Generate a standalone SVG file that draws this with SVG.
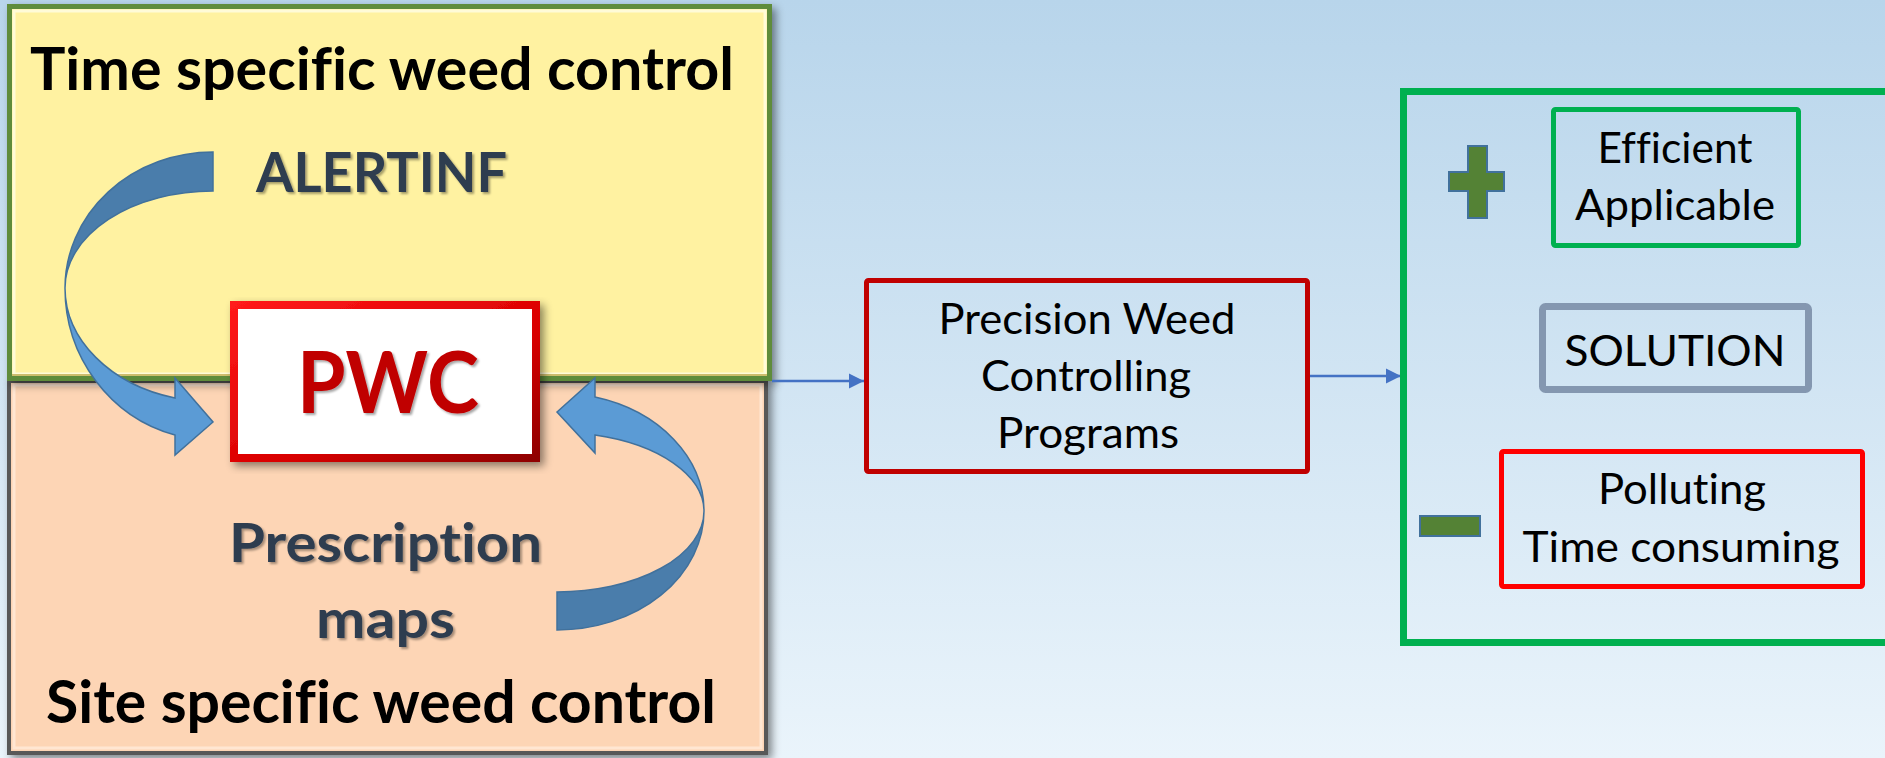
<svg xmlns="http://www.w3.org/2000/svg" width="1885" height="758" viewBox="0 0 1885 758">
<style>
  .f { font-family: Lato, "Open Sans", "Liberation Sans", sans-serif; font-variant-ligatures: none; }
  .title { font-weight: 700; font-size: 59px; fill: #000000; }
  .sub { font-weight: 700; fill: #2f3d50; }
  .lbl { font-size: 42px; fill: #000000; text-anchor: middle; }
  .arrow-dark { fill: #4a7dab; stroke: #41719c; stroke-width: 1.5; }
  .arrow-light { fill: #5b9bd5; stroke: #41719c; stroke-width: 1.5; }
  .conn { stroke: #4472c4; stroke-width: 2.5; fill: none; marker-end: url(#arr); }
  .sign { fill: #548235; stroke: #41719c; stroke-width: 2; }
</style>
<defs>
  <linearGradient id="bgGrad" x1="0" y1="0" x2="0" y2="1">
    <stop offset="0" stop-color="#b8d5eb"/>
    <stop offset="1" stop-color="#eaf4fb"/>
  </linearGradient>
  <linearGradient id="redGrad" x1="0" y1="0" x2="1" y2="1">
    <stop offset="0" stop-color="#ff1a1a"/>
    <stop offset="0.6" stop-color="#d80000"/>
    <stop offset="1" stop-color="#8f0000"/>
  </linearGradient>
  <filter id="boxShadow" x="-5%" y="-5%" width="112%" height="115%">
    <feDropShadow dx="4" dy="4" stdDeviation="4" flood-color="#000000" flood-opacity="0.45"/>
  </filter>
  <filter id="txtShadow" x="-5%" y="-10%" width="115%" height="130%">
    <feDropShadow dx="2" dy="2" stdDeviation="1.3" flood-color="#000000" flood-opacity="0.35"/>
  </filter>
  <marker id="arr" viewBox="0 0 10 10" refX="10" refY="5" markerWidth="6" markerHeight="6.4" orient="auto" markerUnits="strokeWidth">
    <path d="M0,0 L10,5 L0,10 Z" fill="#4472c4"/>
  </marker>
</defs>

<rect id="background" x="0" y="0" width="1885" height="758" fill="url(#bgGrad)"/>

<g id="node-site">
  <rect x="9" y="381" width="757" height="372" fill="#fdd5b5" stroke="#595959" stroke-width="4" filter="url(#boxShadow)"/>
  <rect x="14" y="385" width="747" height="363" fill="none" stroke="#ffe6d2" stroke-width="3"/>
  <text class="f title" x="46" y="723" textLength="670" lengthAdjust="spacingAndGlyphs">Site specific weed control</text>
</g>

<g id="node-time">
  <rect x="9.5" y="6.5" width="760" height="372" fill="#fff2a1" stroke="#5e8c3a" stroke-width="5" filter="url(#boxShadow)"/>
  <rect x="14" y="11" width="751" height="363" fill="none" stroke="#fffbd8" stroke-width="3"/>
  <line x1="12" y1="375" x2="767" y2="375" stroke="#cdbd6c" stroke-width="2"/>
  <text class="f title" x="30" y="90" textLength="704" lengthAdjust="spacingAndGlyphs">Time specific weed control</text>
</g>

<g id="node-alertinf">
  <text class="f sub" x="256" y="192" font-size="56" fill="#1f2d3f" textLength="251" lengthAdjust="spacingAndGlyphs" filter="url(#txtShadow)">ALERTINF</text>
</g>

<g id="node-prescription">
  <text class="f sub" x="229" y="562" font-size="54" textLength="313" lengthAdjust="spacingAndGlyphs" filter="url(#txtShadow)">Prescription</text>
  <text class="f sub" x="316" y="638" font-size="54" textLength="139" lengthAdjust="spacingAndGlyphs" filter="url(#txtShadow)">maps</text>
</g>

<g id="connectors">
  <g id="curved-arrow-alertinf">
    <path class="arrow-dark" d="M213,152 A148,136 0 0 0 65,288 A148,97 0 0 1 213,191 Z"/>
    <path class="arrow-light" d="M65,288 A148,152 0 0 0 175,435 L175,455 L213,422 L175,378 L175,398 A148,114 0 0 1 65,288 Z"/>
  </g>
  <g id="curved-arrow-prescription">
    <path class="arrow-dark" d="M704,511 A147,119 0 0 1 557,630 L557,592 A147,81 0 0 0 704,511 Z"/>
    <path class="arrow-light" d="M704,511 A147,118 0 0 0 595,397 L595,378 L557,412 L595,453 L595,435 A147,79 0 0 1 704,511 Z"/>
  </g>
  <line class="conn" x1="772" y1="381" x2="864" y2="381"/>
  <line class="conn" x1="1310" y1="376" x2="1401" y2="376"/>
</g>

<g id="node-pwc">
  <rect x="234" y="305" width="302" height="153" fill="#ffffff" stroke="url(#redGrad)" stroke-width="8" filter="url(#boxShadow)"/>
  <text class="f" x="297" y="413" font-size="87" font-weight="700" fill="#c00000" textLength="182" lengthAdjust="spacingAndGlyphs" filter="url(#txtShadow)">PWC</text>
</g>

<g id="node-programs">
  <rect x="866.5" y="280.5" width="441" height="191" fill="none" stroke="#c00000" stroke-width="5" rx="2"/>
  <text class="f lbl" x="1087" y="334" textLength="297" lengthAdjust="spacingAndGlyphs">Precision Weed</text>
  <text class="f lbl" x="1086" y="391" textLength="210" lengthAdjust="spacingAndGlyphs">Controlling</text>
  <text class="f lbl" x="1088" y="448" textLength="182" lengthAdjust="spacingAndGlyphs">Programs</text>
</g>

<g id="node-solution-frame">
  <rect x="1403.5" y="91.5" width="500" height="551" fill="none" stroke="#00b050" stroke-width="7"/>
</g>

<g id="node-plus">
  <path class="sign" d="M1468,146 H1487 V172 H1504 V191 H1487 V218 H1468 V191 H1449 V172 H1468 Z"/>
</g>

<g id="node-minus">
  <rect class="sign" x="1420" y="516" width="60" height="20"/>
</g>

<g id="node-pros">
  <rect x="1553.5" y="109.5" width="245" height="136" fill="none" stroke="#00b050" stroke-width="5" rx="2"/>
  <text class="f lbl" x="1675" y="163" textLength="155" lengthAdjust="spacingAndGlyphs">Efficient</text>
  <text class="f lbl" x="1675" y="220" textLength="200" lengthAdjust="spacingAndGlyphs">Applicable</text>
</g>

<g id="node-solution">
  <rect x="1542.5" y="306.5" width="266" height="83" fill="none" stroke="#8497b0" stroke-width="7" rx="3"/>
  <text class="f lbl" x="1675" y="366" font-size="47" textLength="221" lengthAdjust="spacingAndGlyphs">SOLUTION</text>
</g>

<g id="node-cons">
  <rect x="1501.5" y="451.5" width="361" height="135" fill="none" stroke="#ff0000" stroke-width="5" rx="2"/>
  <text class="f lbl" x="1682" y="504" textLength="168" lengthAdjust="spacingAndGlyphs">Polluting</text>
  <text class="f lbl" x="1681" y="562" textLength="317" lengthAdjust="spacingAndGlyphs">Time consuming</text>
</g>
</svg>
